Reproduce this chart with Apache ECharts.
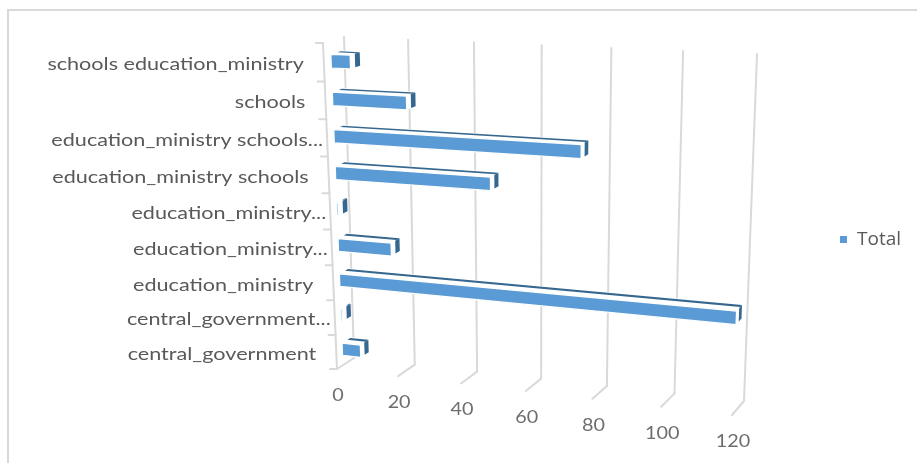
<!DOCTYPE html>
<html><head><meta charset="utf-8">
<style>html,body{margin:0;padding:0;background:#fff}#c{width:917px;height:463px;filter:blur(0.45px)}</style>
<script src="https://cdn.jsdelivr.net/npm/echarts@6/dist/echarts.min.js"></script>
</head><body><div id="c"></div>
<script>
const categories = ['central_government','central_government...','education_ministry','education_ministry...','education_ministry...','education_ministry schools','education_ministry schools...','schools','schools education_ministry'];
const totals = [6, 0.5, 119, 17, 0.5, 48, 74.5, 23, 6];
const ticks = [0, 20, 40, 60, 80, 100, 120];

const FONT = 'Lato, Carlito, sans-serif';
const G = {left: 100, top: 50, width: 600, height: 300};
// Perspective: the chart's unit square (value, category) seen on two planes.
const BACK = [[354,358],[744,401],[757,54],[344,37]];   // bl, br, tr, tl
const FRONT = [[337,369],[732,415],[747,60],[323,43]];
function homography(q){
  const [p0,p1,p2,p3] = q;
  const dx1=p1[0]-p2[0], dx2=p3[0]-p2[0], sx=p0[0]-p1[0]+p2[0]-p3[0];
  const dy1=p1[1]-p2[1], dy2=p3[1]-p2[1], sy=p0[1]-p1[1]+p2[1]-p3[1];
  const den=dx1*dy2-dx2*dy1;
  const g=(sx*dy2-dx2*sy)/den, h=(dx1*sy-sx*dy1)/den;
  const a=p1[0]-p0[0]+g*p1[0], b=p3[0]-p0[0]+h*p3[0], c=p0[0];
  const d=p1[1]-p0[1]+g*p1[1], e=p3[1]-p0[1]+h*p3[1], f=p0[1];
  return (u,t)=>{const w=g*u+h*t+1;return [(a*u+b*t+c)/w,(d*u+e*t+f)/w];};
}
const hb=homography(BACK), hf=homography(FRONT);
function proj(px,py,z){
  const u=(px-G.left)/G.width, t=(G.top+G.height-py)/G.height;
  const f=hf(u,t), b=hb(u,t);
  return [f[0]+(b[0]-f[0])*z, f[1]+(b[1]-f[1])*z];
}
const GRID='#d9d9d9', BLUE='#5b9bd5', DARK='#35678f';
const line=(a,b,w,c)=>({type:'line',shape:{x1:a[0],y1:a[1],x2:b[0],y2:b[1]},style:{stroke:c||GRID,lineWidth:w||2,lineCap:'round'}});
const poly=(pts,fill,stroke,sw)=>({type:'polygon',shape:{points:pts},style:{fill,stroke:stroke||null,lineWidth:sw||0}});
const label=(x,y,text,align,sx,fill)=>({type:'text',x,y,scaleX:sx,style:{x:0,y:0,text,align,verticalAlign:'middle',font:'18px '+FONT,fill}});

function renderTick(params,api){
  const v=api.value(0);
  const x=api.coord([v,0])[0];
  const top=G.top, bot=G.top+G.height;
  const tip=proj(x,bot,0), bb=proj(x,bot,1), bt=proj(x,top,1);
  return {type:'group',children:[
    line(bb,bt), line(tip,bb),
    label(tip[0]+1,tip[1]+26,String(v),'center',1.1,'#6e6e6e')
  ]};
}
function renderCat(params,api){
  const i=api.value(0);
  const name=categories[i];
  const xx=api.coord([0,0])[0];
  const py=api.coord([0,i])[1], band=api.size([0,1])[1];
  const ctr=proj(xx,py,0), t0=proj(xx,py-band/2,0), b0=proj(xx,py+band/2,0);
  const kids=[line(t0,b0),line(t0,[t0[0]-7,t0[1]])];
  if(i===0) kids.push(line(b0,[b0[0]-7,b0[1]]));
  const off=name.endsWith('...')?4:20;
  kids.push(label(ctr[0]-off,ctr[1]+2,name,'right',1.2,'#595959'));
  return {type:'group',children:kids};
}
function renderBar(params,api){
  const i=api.value(0), v=api.value(1);
  const x0=api.coord([0,i])[0], x1=api.coord([v,i])[0];
  const py=api.coord([0,i])[1]+api.size([0,1])[1]*0.03, band=api.size([0,1])[1];
  const yT=py-band*0.18, yB=py+band*0.18;
  const zF=0.35, zM=0.66, zN=0.58, zB=0.82;
  const P=(x,y,z)=>proj(x,y,z);
  const white='#ffffff';
  return {type:'group',children:[
    poly([P(x1,yT,zF),P(x1,yT,zB),P(x1,yB,zB),P(x1,yB,zF)],white),
    poly([P(x0,yT,zF),P(x1,yT,zF),P(x1,yT,zB),P(x0,yT,zB)],white,white,1.5),
    poly([P(x0,yT,zM),P(x1,yT,zM),P(x1,yT,zB),P(x0,yT,zB)],DARK),
    poly([P(x1,yT,zN),P(x1,yT,zB),P(x1,yB,zB),P(x1,yB,zN)],DARK),
    poly([P(x0,yT,zF),P(x1,yT,zF),P(x1,yB,zF),P(x0,yB,zF)],BLUE,white,1.2)
  ]};
}
const chart=echarts.init(document.getElementById('c'),null,{renderer:'canvas'});
chart.setOption({
  animation:false,
  backgroundColor:'#ffffff',
  graphic:[{type:'polyline',silent:true,shape:{points:[[8,470],[8,10],[925,10]]},style:{fill:null,stroke:'#d9d9d9',lineWidth:2}}],
  grid:Object.assign({},G),
  xAxis:{type:'value',min:0,max:120,interval:20,show:false},
  yAxis:{type:'category',data:categories,show:false},
  legend:{data:['Total'],left:835,top:225,itemWidth:7,itemHeight:7,icon:'rect',
    textStyle:{fontFamily:'"Open Sans"',fontSize:19,color:'#595959',padding:[0,0,0,5]}},
  series:[
    {type:'custom',name:'axis',z:1,silent:true,clip:false,renderItem:renderTick,data:ticks.map(t=>[t]),encode:{x:0}},
    {type:'custom',name:'categories',z:1,silent:true,clip:false,renderItem:renderCat,data:categories.map((c,i)=>[i]),encode:{y:0}},
    {type:'custom',name:'Total',z:2,clip:false,itemStyle:{color:BLUE},renderItem:renderBar,
      data:totals.map((v,i)=>[i,v]),encode:{x:1,y:0}}
  ]
});
</script></body></html>
